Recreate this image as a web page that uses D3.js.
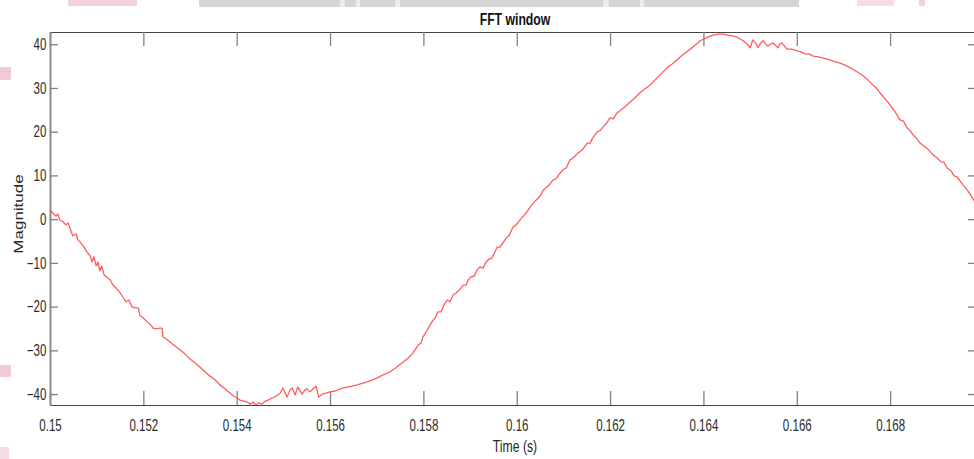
<!DOCTYPE html>
<html>
<head>
<meta charset="utf-8">
<script src="https://cdn.jsdelivr.net/npm/d3@7"></script>
<style>
  body { margin: 0; background: #fff; }
  svg { display: block; font-family: "Liberation Sans", Arial, sans-serif; }
</style>
</head>
<body>
<div id="chart"></div>
<script>
// signal in segments (time in s, magnitude)
var descentTime = [0.15000, 0.15006, 0.15013, 0.15017, 0.15021, 0.15028, 0.15034, 0.15039, 0.15043, 0.15049,
  0.15056, 0.15060, 0.15066, 0.15073, 0.15079, 0.15086, 0.15090, 0.15094, 0.15099, 0.15103,
  0.15107, 0.15111, 0.15116, 0.15122, 0.15129, 0.15135, 0.15141, 0.15150, 0.15156, 0.15163,
  0.15169, 0.15176, 0.15182, 0.15189, 0.15193, 0.15199, 0.15208, 0.15214, 0.15221, 0.15227,
  0.15236, 0.15240, 0.15242, 0.15249, 0.15257, 0.15268, 0.15279, 0.15289, 0.15300, 0.15311,
  0.15321, 0.15332, 0.15343, 0.15354, 0.15364, 0.15375, 0.15386, 0.15394, 0.15401];
var descentMag = [2.1, 1.4, 0.7, 1.2, -0.2, -0.6, -1.3, -0.9, -2.2, -3.8,
  -3.4, -4.8, -5.4, -6.4, -7.5, -8.4, -9.8, -8.6, -10.7, -9.8,
  -11.8, -10.7, -12.8, -13.3, -13.9, -15.1, -15.7, -16.8, -17.8, -18.9,
  -18.5, -20.1, -20.3, -20.3, -22.1, -22.5, -23.5, -24.0, -24.9, -25.1,
  -24.9, -24.9, -26.9, -27.4, -28.1, -29.0, -29.9, -30.8, -32.0, -32.9,
  -33.8, -34.9, -35.9, -36.8, -37.9, -38.8, -39.8, -40.5, -40.9];

var troughTime = [0.15407, 0.15416, 0.15422, 0.15429, 0.15435, 0.15441, 0.15448, 0.15454, 0.15461, 0.15467,
  0.15476, 0.15484, 0.15493, 0.15499, 0.15508, 0.15514, 0.15519, 0.15525, 0.15531, 0.15540,
  0.15546, 0.15551, 0.15557, 0.15564, 0.15570, 0.15576, 0.15583, 0.15591, 0.15600, 0.15611,
  0.15621, 0.15636, 0.15647, 0.15658, 0.15671, 0.15686, 0.15701, 0.15714, 0.15729, 0.15741];
var troughMag = [-41.4, -41.6, -41.8, -42.3, -41.8, -42.5, -42.0, -42.3, -41.6, -41.4,
  -40.9, -40.5, -39.8, -38.6, -40.7, -39.1, -38.6, -40.2, -38.4, -40.0,
  -39.1, -38.8, -39.5, -38.8, -38.2, -40.7, -40.0, -39.8, -39.5, -39.3,
  -38.8, -38.4, -38.2, -37.9, -37.5, -37.0, -36.3, -35.6, -34.9, -34.0];

var riseTime = [0.15756, 0.15767, 0.15776, 0.15782, 0.15789, 0.15795, 0.15799, 0.15806, 0.15814, 0.15821,
  0.15825, 0.15831, 0.15838, 0.15844, 0.15851, 0.15857, 0.15864, 0.15870, 0.15879, 0.15885,
  0.15891, 0.15896, 0.15902, 0.15909, 0.15915, 0.15921, 0.15928, 0.15934, 0.15941, 0.15947,
  0.15954, 0.15958, 0.15964, 0.15971, 0.15977, 0.15984, 0.15992, 0.15999, 0.16005, 0.16011,
  0.16020, 0.16029, 0.16037, 0.16044, 0.16050, 0.16056, 0.16065, 0.16071, 0.16078, 0.16084,
  0.16091, 0.16099, 0.16106, 0.16114, 0.16123, 0.16131, 0.16140, 0.16151, 0.16157, 0.16163,
  0.16172, 0.16178, 0.16185, 0.16193, 0.16200, 0.16206, 0.16215, 0.16221, 0.16232, 0.16243,
  0.16253, 0.16264, 0.16275, 0.16286, 0.16296, 0.16307, 0.16322, 0.16333, 0.16343, 0.16356,
  0.16367, 0.16378, 0.16386, 0.16393, 0.16401, 0.16410, 0.16421];
var riseMag = [-32.7, -31.8, -30.8, -29.9, -28.8, -28.3, -26.9, -25.8, -24.2, -23.1,
  -22.6, -21.2, -21.2, -19.6, -18.5, -18.9, -17.3, -16.9, -16.0, -15.1,
  -15.1, -13.9, -13.2, -13.0, -11.6, -10.9, -11.2, -9.8, -9.1, -8.9,
  -7.3, -6.4, -6.4, -5.3, -4.4, -3.7, -1.8, -1.3, -0.4, 0.3,
  1.4, 2.8, 3.9, 4.6, 5.3, 6.5, 7.4, 8.0, 9.0, 9.2,
  10.3, 11.3, 11.7, 13.5, 14.2, 15.1, 15.8, 17.4, 17.4, 18.6,
  19.9, 20.2, 21.1, 22.0, 23.2, 22.9, 24.3, 24.8, 25.7, 26.8,
  27.7, 28.9, 29.8, 30.7, 31.8, 33.0, 34.6, 35.5, 36.4, 37.6,
  38.5, 39.4, 40.1, 40.8, 41.2, 41.7, 42.1];

var peakTime = [0.16431, 0.16442, 0.16453, 0.16463, 0.16474, 0.16485, 0.16493, 0.16500, 0.16506, 0.16513,
  0.16517, 0.16523, 0.16528, 0.16534, 0.16538, 0.16545, 0.16549, 0.16556, 0.16560, 0.16564,
  0.16568, 0.16575, 0.16579, 0.16588, 0.16594, 0.16601, 0.16607, 0.16618, 0.16626, 0.16635,
  0.16646, 0.16656, 0.16671, 0.16682];
var peakMag = [42.3, 42.3, 42.1, 41.9, 41.5, 40.8, 40.1, 39.2, 41.0, 40.1,
  39.2, 40.3, 40.8, 39.9, 39.6, 40.1, 40.3, 39.6, 39.2, 40.1,
  40.3, 39.4, 38.9, 38.9, 38.7, 38.5, 38.3, 37.8, 37.8, 37.3,
  37.1, 36.9, 36.4, 36.0];

var fallTime = [0.16693, 0.16708, 0.16718, 0.16729, 0.16742, 0.16753, 0.16763, 0.16772, 0.16778, 0.16789,
  0.16800, 0.16811, 0.16821, 0.16828, 0.16836, 0.16843, 0.16849, 0.16858, 0.16864, 0.16875,
  0.16883, 0.16892, 0.16901, 0.16909, 0.16916, 0.16922, 0.16931, 0.16937, 0.16943, 0.16950,
  0.16958, 0.16965, 0.16971, 0.16980, 0.16984];
var fallMag = [35.7, 35.0, 34.4, 33.7, 32.8, 31.8, 30.7, 29.8, 28.9, 27.5,
  26.1, 24.5, 22.7, 22.5, 20.9, 20.2, 19.3, 18.3, 17.4, 16.5,
  15.8, 14.7, 14.0, 13.1, 12.9, 11.7, 11.0, 9.9, 9.7, 8.7,
  7.6, 6.7, 5.8, 4.2, 3.7];

var xTicks = [0.15, 0.152, 0.154, 0.156, 0.158, 0.16, 0.162, 0.164, 0.166, 0.168];
var yTicks = [-40, -30, -20, -10, 0, 10, 20, 30, 40];
var xDomain = [0.15, 0.16984];
var yDomain = [-42.5, 42.8];

var times = [].concat(descentTime, troughTime, riseTime, peakTime, fallTime);
var mags = [].concat(descentMag, troughMag, riseMag, peakMag, fallMag);
var points = times.map(function(t, i) { return {t: t, v: mags[i]}; });

var W = 974, H = 459;
var plot = {left: 50, right: 976, top: 32, bottom: 405};
var squeeze = 'scale(0.72,1)';

var svg = d3.select('#chart').append('svg')
    .attr('width', W)
    .attr('height', H)
    .style('background', '#fff');

// screenshot leftovers along the top and left edges
var decor = [
  {x: 68, y: 0, w: 69, h: 6, c: '#f3d3da'},
  {x: 199, y: 0, w: 600, h: 7, c: '#d5d5d5'},
  {x: 857, y: 0, w: 37, h: 6, c: '#f6dde3'},
  {x: 919, y: 0, w: 6, h: 6, c: '#f3d3da'},
  {x: 0, y: 67, w: 11, h: 13, c: '#f0cbd4'},
  {x: 0, y: 365, w: 11, h: 12, c: '#f0cbd4'},
  {x: 0, y: 447, w: 9, h: 12, c: '#f6dde3'}
];
svg.selectAll('rect.decor').data(decor).enter().append('rect')
    .attr('class', 'decor')
    .attr('x', function(d) { return d.x; })
    .attr('y', function(d) { return d.y; })
    .attr('width', function(d) { return d.w; })
    .attr('height', function(d) { return d.h; })
    .attr('fill', function(d) { return d.c; });
[[340, 5], [356, 4], [395, 5], [603, 6], [640, 4]].forEach(function(g) {
  svg.append('rect').attr('x', g[0]).attr('y', 0).attr('width', g[1]).attr('height', 7).attr('fill', '#ececec');
});

var x = d3.scaleLinear().domain(xDomain).range([plot.left, plot.right]);
var y = d3.scaleLinear().domain(yDomain).range([plot.bottom, plot.top]);

svg.append('clipPath').attr('id', 'clip')
  .append('rect')
    .attr('x', plot.left).attr('y', plot.top - 2)
    .attr('width', plot.right - plot.left).attr('height', plot.bottom - plot.top + 4);

// axes, matlab style: ticks point inward
var bottomAxis = svg.append('g')
    .attr('transform', 'translate(0,' + plot.bottom + ')')
    .call(d3.axisBottom(x).tickValues(xTicks).tickSizeInner(-14).tickSizeOuter(0)
      .tickFormat(function(d) { return String(+d.toFixed(3)); }));
bottomAxis.selectAll('text')
    .attr('y', 26).attr('dy', null)
    .attr('transform', squeeze)
    .style('font-size', '16px').attr('fill', '#2b2b2b');

var topAxis = svg.append('g')
    .attr('transform', 'translate(0,' + plot.top + ')')
    .call(d3.axisTop(x).tickValues(xTicks).tickSizeInner(-14).tickSizeOuter(0).tickFormat(''));

var leftAxis = svg.append('g')
    .attr('transform', 'translate(' + plot.left + ',0)')
    .call(d3.axisLeft(y).tickValues(yTicks).tickSizeInner(-8).tickSizeOuter(0).tickPadding(5));
leftAxis.selectAll('text')
    .attr('transform', squeeze)
    .style('font-size', '16px').attr('fill', '#2b2b2b');

var rightAxis = svg.append('g')
    .attr('transform', 'translate(' + plot.right + ',0)')
    .call(d3.axisRight(y).tickValues(yTicks).tickSizeInner(-8).tickSizeOuter(0).tickFormat(''));

[bottomAxis, topAxis, leftAxis, rightAxis].forEach(function(a) {
  a.select('.domain').attr('stroke', '#444').attr('stroke-width', 1.2);
  a.selectAll('.tick line').attr('stroke', '#808080').attr('stroke-width', 1.3);
});
leftAxis.select('.domain').attr('stroke', '#8c8c8c').attr('stroke-width', 2);

// the signal
var line = d3.line()
    .x(function(d) { return x(d.t); })
    .y(function(d) { return y(d.v); });

svg.append('path')
    .datum(points)
    .attr('clip-path', 'url(#clip)')
    .attr('fill', 'none')
    .attr('stroke', '#ff4a4a')
    .attr('stroke-width', 1.3)
    .attr('stroke-opacity', 0.9)
    .attr('stroke-linejoin', 'round')
    .attr('d', line);

// labels
svg.append('text')
    .attr('transform', 'translate(515,25) ' + squeeze)
    .attr('text-anchor', 'middle')
    .style('font-size', '17px').style('font-weight', 'bold')
    .attr('fill', '#111')
    .text('FFT window');

svg.append('text')
    .attr('transform', 'translate(515,452) ' + squeeze)
    .attr('text-anchor', 'middle')
    .style('font-size', '17px')
    .attr('fill', '#262626')
    .text('Time (s)');

svg.append('text')
    .attr('transform', 'translate(23,214) rotate(-90) scale(1,0.72)')
    .attr('text-anchor', 'middle')
    .style('font-size', '17px')
    .attr('fill', '#262626')
    .text('Magnitude');
</script>
</body>
</html>
